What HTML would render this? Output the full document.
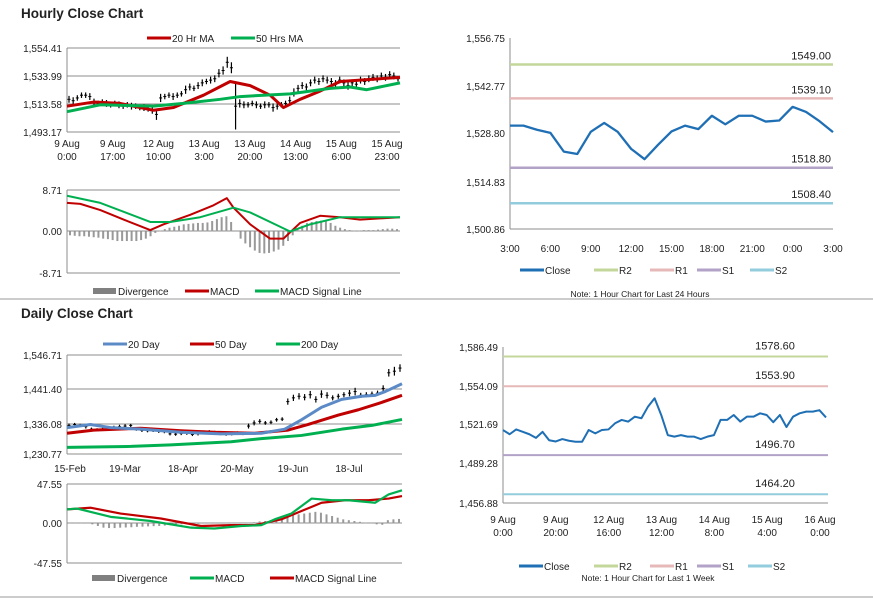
<!DOCTYPE html>
<html><head><meta charset="utf-8"><style>
body{margin:0;background:#fff;width:873px;height:601px;overflow:hidden;font-family:"Liberation Sans",Arial,sans-serif}
svg text{font-family:"Liberation Sans",Arial,sans-serif;fill:#222}
</style></head><body>
<svg id="s" width="873" height="601" viewBox="0 0 873 601" xmlns="http://www.w3.org/2000/svg">
<line x1="0" y1="299" x2="873" y2="299" stroke="#999"/>
<line x1="0" y1="597" x2="873" y2="597" stroke="#999"/>
<text x="21" y="18" font-size="13.5" font-weight="bold">Hourly Close Chart</text>
<text x="21" y="318" font-size="13.5" font-weight="bold">Daily Close Chart</text>
</svg>
<script>
// ---------- data ----------
const hCandleClose=[1517,1516,1518,1520,1520,1519,1515,1514,1515,1514,1513,1514,1513,1512,1513,1512,1512,1511,1511,1510,1509,1506,1518,1519,1520,1519,1520,1521,1524,1526,1525,1527,1529,1530,1531,1532,1536,1538,1544,1540,1512,1514,1513,1513,1514,1513,1512,1513,1513,1511,1512,1513,1514,1516,1522,1525,1527,1526,1529,1531,1530,1532,1531,1530,1528,1531,1529,1527,1529,1528,1531,1530,1532,1533,1532,1534,1533,1535,1534,1532];
const hCandleRange=[2.5,2.5,2,2,2,2.5,2.5,2,2,2.5,2,2,2.5,2,2,2.5,2,2,2.5,2,2.5,4,3,2,2,2.5,2,2,3,2.5,2,2.5,2.5,2,2.5,2.5,3,3,4,4,17,3,2.5,2,2,2.5,2,2.5,2,3,2.5,2,2,3,3,2.5,2.5,2.5,2.5,2.5,2.5,2.5,2.5,2.5,3,2.5,2.5,3,2.5,2.5,2.5,2.5,2.5,2.5,2.5,2.5,2.5,2.5,2.5,2];
const hMA20=[1512,1515,1514,1509,1511,1520,1530,1527,1520,1511,1517,1523,1530,1531,1533];
const hMA20x=[0,0.08,0.16,0.26,0.32,0.41,0.49,0.55,0.61,0.65,0.70,0.76,0.82,0.88,1];
const hMA50=[1508,1513,1512,1514,1517,1519,1521,1525,1526,1524,1529];
const hMA50x=[0,0.1,0.26,0.35,0.46,0.52,0.67,0.79,0.85,0.9,1];
const hMacd=[6.0,5.8,4.5,2.5,0.3,1.5,3.5,5.5,7.0,5.0,1.5,-1.5,-1.5,1.8,3.3,3.0,2.5,3.0];
const hMacdx=[0,0.04,0.1,0.17,0.25,0.29,0.37,0.44,0.48,0.5,0.55,0.61,0.65,0.7,0.76,0.82,0.88,1];
const hSig=[7.5,6,2,2,3,5,4,0,1.5,3,3];
const hSigx=[0,0.1,0.25,0.31,0.4,0.5,0.55,0.67,0.73,0.82,1];
const hDiv=[-0.8,-0.9,-1,-1,-1.1,-1.2,-1.3,-1.5,-1.6,-1.8,-2,-2,-2,-2,-2,-1.8,-1.5,-1,-0.3,0.2,0.5,0.8,1,1.2,1.5,1.6,1.7,1.8,1.8,1.9,2.2,2.6,3,3.2,2,0,-1.5,-2.5,-3.3,-4,-4.5,-4.6,-4.5,-4.2,-3.8,-3,-2,-0.8,0.5,1.2,1.8,2,2.2,2.3,2.2,1.8,1.2,0.8,0.5,0.3,0.2,0.2,0.3,0.3,0.3,0.4,0.5,0.6,0.6,0.5];
const hTicks=["9 Aug|0:00","9 Aug|17:00","12 Aug|10:00","13 Aug|3:00","13 Aug|20:00","14 Aug|13:00","15 Aug|6:00","15 Aug|23:00"];

const dayLabels=["3:00","6:00","9:00","12:00","15:00","18:00","21:00","0:00","3:00"];
const dayClose=[1531.1,1531.1,1529.9,1529.0,1523.5,1522.8,1529.3,1531.9,1529.3,1524.3,1521.3,1525.5,1529.4,1531.1,1530.1,1534.0,1531.5,1534.0,1534.0,1532.3,1532.6,1536.6,1535.1,1532.4,1529.2];
const levelNames=["R2","R1","S1","S2"];
const dayLevels=[1549.00,1539.10,1518.80,1508.40];
const wkLevels=[1578.60,1553.90,1496.70,1464.20];
const wkClose=[1517.5,1514,1518,1516,1514,1511,1516,1509,1508,1510,1508.6,1507.8,1507.8,1517.5,1514.7,1517.5,1518,1523.1,1525.9,1524.5,1528.6,1527.3,1537,1543.9,1530,1513.3,1512,1513.3,1512,1512,1510,1512,1513.3,1525.9,1525.9,1530,1524.5,1528.6,1528.6,1531.4,1530,1524,1530,1520,1528.6,1531.4,1532.8,1532.8,1534,1528];
const wkTicks=["9 Aug|0:00","9 Aug|20:00","12 Aug|16:00","13 Aug|12:00","14 Aug|8:00","15 Aug|4:00","16 Aug|0:00"];

const dCandleClose=[1322,1325,1322,1318,1310,1308,1310,1312,1315,1318,1320,1322,1310,1306,1305,1306,1303,1302,1295,1294,1296,1298,1293,1295,1300,1302,1300,1296,1294,1295,1298,1296,1320,1330,1335,1330,1332,1340,1342,1398,1410,1415,1412,1420,1405,1422,1418,1410,1415,1420,1425,1430,1418,1420,1422,1425,1440,1490,1495,1505];
const dCandleRange=[6,5,5,6,5,5,5,5,6,6,6,5,5,5,5,5,5,5,5,5,5,6,5,5,6,5,5,5,5,5,5,5,8,8,7,6,6,6,6,10,10,10,10,12,10,12,10,8,8,8,10,12,8,8,8,8,10,12,14,12];
const d20=[1315,1325,1315,1310,1300,1295,1297,1310,1340,1380,1405,1415,1418,1430,1455];
const d20x=[0,0.07,0.13,0.22,0.34,0.46,0.58,0.65,0.7,0.76,0.82,0.88,0.92,0.95,1];
const d50=[1297,1307,1313,1305,1300,1297,1307,1325,1355,1372,1392,1418];
const d50x=[0,0.08,0.22,0.34,0.44,0.56,0.66,0.72,0.81,0.87,0.93,1];
const d200=[1252,1255,1260,1270,1280,1290,1310,1322,1341];
const d200x=[0,0.19,0.31,0.49,0.58,0.7,0.82,0.91,1];
const dMacd=[17,18,8,3,-5,-6,-3,-2,5,12,30,28,28,25,35,40];
const dMacdx=[0,0.03,0.13,0.25,0.37,0.44,0.52,0.58,0.62,0.67,0.73,0.79,0.84,0.92,0.96,1];
const dSig=[17,19,12,6,-3,-2,-2,5,15,25,28,28,30,33];
const dSigx=[0,0.07,0.16,0.28,0.4,0.49,0.56,0.64,0.7,0.76,0.83,0.9,0.96,1];
const dDiv=[0.5,0.5,0.5,0.3,-1,-3,-5,-5.5,-5.5,-5,-4.8,-4.5,-4,-3.8,-3.5,-3.2,-3,-2.5,-2,-1.5,-1,-0.5,-0.5,-0.3,0.3,0.5,0.3,0.2,0.5,0.8,0.5,0.6,1,1.5,2.5,3,4,5,7,8,10,11,12,13,14,13,11,9,7,5,4,3,2,1,0.5,-1,-1.5,4,5,5.5];

// ---------- helpers ----------
const S=document.getElementById('s');const NS='http://www.w3.org/2000/svg';
function mk(t,a,txt){const e=document.createElementNS(NS,t);for(const k in a)e.setAttribute(k,a[k]);if(txt!==undefined)e.textContent=txt;S.appendChild(e);return e;}
function lin(d0,d1,r0,r1){return v=>r0+(v-d0)/(d1-d0)*(r1-r0);}
function axisY(x0,x1,ys,labels,name){ys.forEach((y,i)=>{const g=mk('line',{x1:x0,y1:y,x2:x1,y2:y,stroke:'#8c8c8c','stroke-width':1});


const t=mk('text',{x:x0-5,y:y+4,'font-size':10,'text-anchor':'end'},labels[i]);

});
const a=mk('line',{x1:x0,y1:ys[0],x2:x0,y2:ys[ys.length-1],stroke:'#8c8c8c'});

}
function poly(xs,ys,color,w,name){const p=mk('polyline',{points:xs.map((x,i)=>x+','+ys[i]).join(' '),fill:'none',stroke:color,'stroke-width':w,'stroke-linejoin':'round'});

}
function legLine(x,y,color,label,name,box){let m;if(box){m=mk('rect',{x:x,y:y-3,width:23,height:6,fill:'#808080'});}else{m=mk('line',{x1:x,y1:y,x2:x+24,y2:y,stroke:color,'stroke-width':3});}


const t=mk('text',{x:x+25,y:y+4,'font-size':10},label);

}
function xTicks(labels,x0,x1,y,name){labels.forEach((l,i)=>{const x=x0+i*(x1-x0)/(labels.length-1);const parts=l.split('|');parts.forEach((p,j)=>{const t=mk('text',{x:x,y:y+j*13,'font-size':10,'text-anchor':'middle'},p);

});});}
function candles(cl,rg,x0,x1,sy,name){const n=cl.length;cl.forEach((c,i)=>{const x=x0+2+i*(x1-x0-4)/(n-1);const l=mk('line',{x1:x,y1:sy(c+rg[i]),x2:x,y2:sy(c-rg[i]),stroke:'#000','stroke-width':1.2});


const k=mk('line',{x1:x-1.5,y1:sy(c),x2:x+1.5,y2:sy(c),stroke:'#000','stroke-width':1});

});}
function bars(vals,x0,x1,sy,name){const n=vals.length;vals.forEach((v,i)=>{const x=x0+3+i*(x1-x0-6)/(n-1);const b=mk('rect',{x:x-1,y:Math.min(sy(v),sy(0)),width:2,height:Math.abs(sy(v)-sy(0)),fill:'#999'});

});}

// ---------- hourly main ----------
{const x0=67,x1=400,sy=lin(1493.17,1554.41,132,48),sx=f=>x0+f*(x1-x0);
axisY(x0,x1,[48,76,104,132],["1,554.41","1,533.99","1,513.58","1,493.17"],'hourly-price');
candles(hCandleClose,hCandleRange,x0,x1,sy,'hourly');
poly(hMA20x.map(sx),hMA20.map(sy),'#c00000',3,'hourly-20hr-ma-line');
poly(hMA50x.map(sx),hMA50.map(sy),'#00b050',3,'hourly-50hr-ma-line');
xTicks(hTicks,x0,387,147,'hourly');
legLine(147,38,'#c00000','20 Hr MA','hourly-20hr-ma');
legLine(231,38,'#00b050','50 Hrs MA','hourly-50hr-ma');}
// ---------- hourly macd ----------
{const x0=67,x1=400,sy=lin(-8.71,8.71,273,190),sx=f=>x0+f*(x1-x0);
axisY(x0,x1,[190,231,273],["8.71","0.00","-8.71"],'hourly-macd');
bars(hDiv,x0,x1,sy,'hourly');
poly(hMacdx.map(sx),hMacd.map(sy),'#c00000',2,'hourly-macd-line');
poly(hSigx.map(sx),hSig.map(sy),'#00b050',2,'hourly-signal-line');
legLine(93,291,'','Divergence','hourly-divergence',true);
legLine(185,291,'#c00000','MACD','hourly-macd');
legLine(255,291,'#00b050','MACD Signal Line','hourly-signal');}
// ---------- 24h chart ----------
{const x0=510,x1=833,sy=lin(1500.86,1556.75,229,38),n=dayClose.length,sx=i=>x0+i*(x1-x0)/(n-1);
axisY(x0,x0,[38,86,133,182,229],["1,556.75","1,542.77","1,528.80","1,514.83","1,500.86"],'day-price');
const lc=['#c4d79b','#e6b9b8','#b3a2c7','#93cddd'];
dayLevels.forEach((v,i)=>{const l=mk('line',{x1:x0,y1:sy(v),x2:x1,y2:sy(v),stroke:lc[i],'stroke-width':2.5});


const t=mk('text',{x:831,y:sy(v)-5,'font-size':11,'text-anchor':'end'},v.toFixed(2));

});
poly(dayClose.map((v,i)=>sx(i)),dayClose.map(sy),'#1f6fb5',2.3,'day-close-line');
const b=mk('line',{x1:x0,y1:229,x2:x1,y2:229,stroke:'#8c8c8c'});


xTicks(dayLabels,x0,x1,252,'day');
legLine(520,270,'#1f6fb5','Close','day-close');
legLine(594,270,lc[0],'R2','day-r2');legLine(650,270,lc[1],'R1','day-r1');
legLine(697,270,lc[2],'S1','day-s1');legLine(750,270,lc[3],'S2','day-s2');
const n2=mk('text',{x:640,y:297,'font-size':8.5,'text-anchor':'middle'},'Note: 1 Hour Chart for Last 24 Hours');

}
// ---------- daily main ----------
{const x0=67,x1=402,sy=lin(1230.77,1546.71,454,355),sx=f=>x0+f*(x1-x0);
axisY(x0,x1,[355,389,424,454],["1,546.71","1,441.40","1,336.08","1,230.77"],'daily-price');
candles(dCandleClose,dCandleRange,x0,x1,sy,'daily');
poly(d200x.map(sx),d200.map(sy),'#00b050',3,'daily-200day-line');
poly(d50x.map(sx),d50.map(sy),'#c00000',3,'daily-50day-line');
poly(d20x.map(sx),d20.map(sy),'#5b8ac6',3,'daily-20day-line');
["15-Feb","19-Mar","18-Apr","20-May","19-Jun","18-Jul"].forEach((l,i)=>{const t=mk('text',{x:[70,125,183,237,293,349][i],y:472,'font-size':10,'text-anchor':'middle'},l);

});
legLine(103,344,'#5b8ac6','20 Day','daily-20day');
legLine(190,344,'#c00000','50 Day','daily-50day');
legLine(276,344,'#00b050','200 Day','daily-200day');}
// ---------- daily macd ----------
{const x0=67,x1=402,sy=lin(-47.55,47.55,563,484),sx=f=>x0+f*(x1-x0);
axisY(x0,x1,[484,523,563],["47.55","0.00","-47.55"],'daily-macd');
bars(dDiv,x0,x1,sy,'daily');
poly(dSigx.map(sx),dSig.map(sy),'#c00000',2.2,'daily-signal-line');
poly(dMacdx.map(sx),dMacd.map(sy),'#00b050',2.2,'daily-macd-line');
legLine(92,578,'','Divergence','daily-divergence',true);
legLine(190,578,'#00b050','MACD','daily-macd');
legLine(270,578,'#c00000','MACD Signal Line','daily-signal');}
// ---------- week chart ----------
{const x0=503,x1=828,sy=lin(1456.88,1586.49,503,347),n=wkClose.length,sx=i=>x0+i*(x1-x0-2)/(n-1);
axisY(x0,x0,[347,386,424,463,503],["1,586.49","1,554.09","1,521.69","1,489.28","1,456.88"],'week-price');
const lc=['#c4d79b','#e6b9b8','#b3a2c7','#93cddd'];
wkLevels.forEach((v,i)=>{const l=mk('line',{x1:x0,y1:sy(v),x2:x1,y2:sy(v),stroke:lc[i],'stroke-width':2});


const t=mk('text',{x:775,y:sy(v)-7,'font-size':11,'text-anchor':'middle'},v.toFixed(2));

});
poly(wkClose.map((v,i)=>sx(i)),wkClose.map(sy),'#1f6fb5',2,'week-close-line');
const b=mk('line',{x1:x0,y1:503,x2:x1,y2:503,stroke:'#8c8c8c'});


xTicks(wkTicks,x0,820,523,'week');
legLine(519,566,'#1f6fb5','Close','week-close');
legLine(594,566,lc[0],'R2','week-r2');legLine(650,566,lc[1],'R1','week-r1');
legLine(697,566,lc[2],'S1','week-s1');legLine(748,566,lc[3],'S2','week-s2');
const n2=mk('text',{x:648,y:581,'font-size':8.5,'text-anchor':'middle'},'Note: 1 Hour Chart for Last 1 Week');

}
</script>
</body></html>
